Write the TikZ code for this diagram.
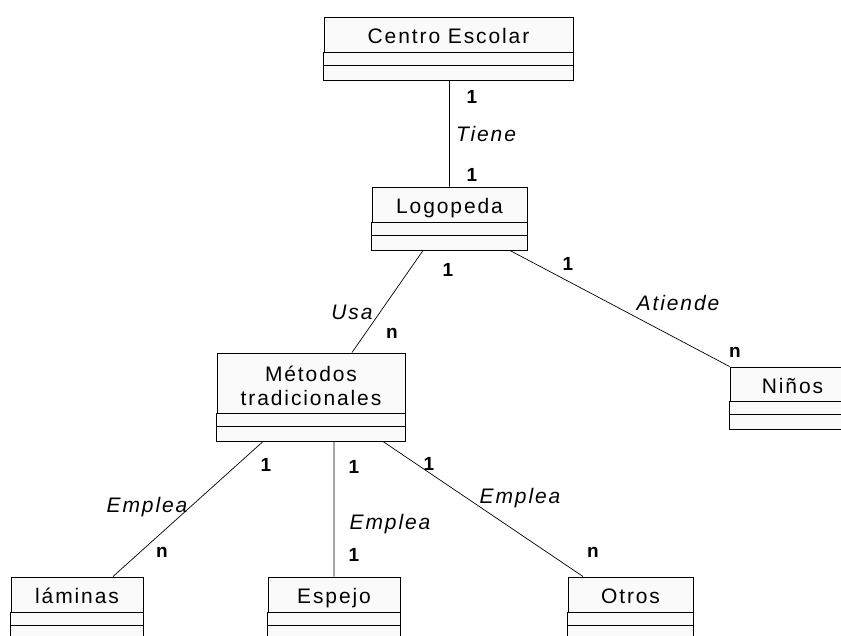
\documentclass[tikz,border=0pt]{standalone}
\usepackage{fontspec}
\setmainfont{Liberation Sans}[LetterSpace=9]
\usetikzlibrary{positioning}
\definecolor{fondo}{HTML}{FAFAFA}

\begin{document}
\begin{tikzpicture}[x=1pt, y=-1pt,
    clase/.style={draw, fill=fondo, line width=1pt, inner sep=0pt, align=center,
        text height=18pt, text depth=0pt, font=\fontsize{21}{24}\selectfont},
    mult/.style={inner sep=0pt, font=\fontsize{19}{22}\selectfont\bfseries},
    rol/.style={inner sep=0pt, text height=15pt, text depth=0pt,
        font=\fontsize{21}{24}\selectfont\itshape}]
    \useasboundingbox (0,0) rectangle (841,635);
    \clip (0,0) rectangle (841,635);
    % clases
    \node[clase, minimum width=249pt, minimum height=35pt] (centro) at (448.5, 34.5) {Centro Escolar};
    \node[clase, minimum width=155pt, minimum height=35pt] (logo) at (449.5, 204.5) {Logopeda};
    \node[clase, minimum width=188pt, minimum height=60pt, text height=44pt] (metodos) at (311, 383) {Métodos\\tradicionales};
    \node[clase, minimum width=125pt, minimum height=34pt] (ninos) at (792.5, 384) {Niños};
    \node[clase, minimum width=132pt, minimum height=35pt] (laminas) at (77, 594.5) {láminas};
    \node[clase, minimum width=132pt, minimum height=35pt] (espejo) at (334, 594.5) {Espejo};
    \node[clase, minimum width=125pt, minimum height=35pt] (otros) at (630.5, 594.5) {Otros};
    \foreach \c in {centro, logo, metodos, ninos, laminas, espejo, otros} {
        \draw[line width=1pt, fill=fondo] (\c.south west) rectangle ([yshift=-13pt]\c.south east);
        \draw[line width=1pt, fill=fondo] ([yshift=-13pt]\c.south west) rectangle ([yshift=-28pt]\c.south east);
        \coordinate (\c-b) at ([yshift=-28pt]\c.south);
    }
    % relaciones
    \draw[line width=0.7pt]
        (logo.north |- centro-b) -- (logo.north)
        ([xshift=-26.5pt]logo-b) -- ([xshift=41pt]metodos.north)
        ([xshift=60.5pt]logo-b) -- (ninos.north west)
        ([xshift=-48pt]metodos-b) -- ([xshift=36pt]laminas.north)
        (espejo.north |- metodos-b) -- (espejo.north)
        ([xshift=72pt]metodos-b) -- ([xshift=-47.5pt]otros.north);
    % etiquetas
    \node[mult] (t1) at (472, 97) {1};
    \node[rol] (tiene) at (486, 134) {Tiene};
    \node[mult] (t2) at (472, 175) {1};
    \node[mult] (u1) at (448, 270) {1};
    \node[rol] (usa) at (352, 312) {Usa};
    \node[mult] (u2) at (392, 333) {n};
    \node[mult] (a1) at (568, 264) {1};
    \node[rol] (atiende) at (678, 303) {Atiende};
    \node[mult] (a2) at (735, 352) {n};
    \node[mult] (e1) at (266, 465) {1};
    \node[rol] (emplea1) at (147, 505) {Emplea};
    \node[mult] (e2) at (162, 552) {n};
    \node[mult] (e3) at (354, 467) {1};
    \node[rol] (emplea2) at (390, 522) {Emplea};
    \node[mult] (e4) at (354, 555) {1};
    \node[mult] (e5) at (429, 464) {1};
    \node[rol] (emplea3) at (520, 496) {Emplea};
    \node[mult] (e6) at (593, 552) {n};
\end{tikzpicture}
\end{document}
